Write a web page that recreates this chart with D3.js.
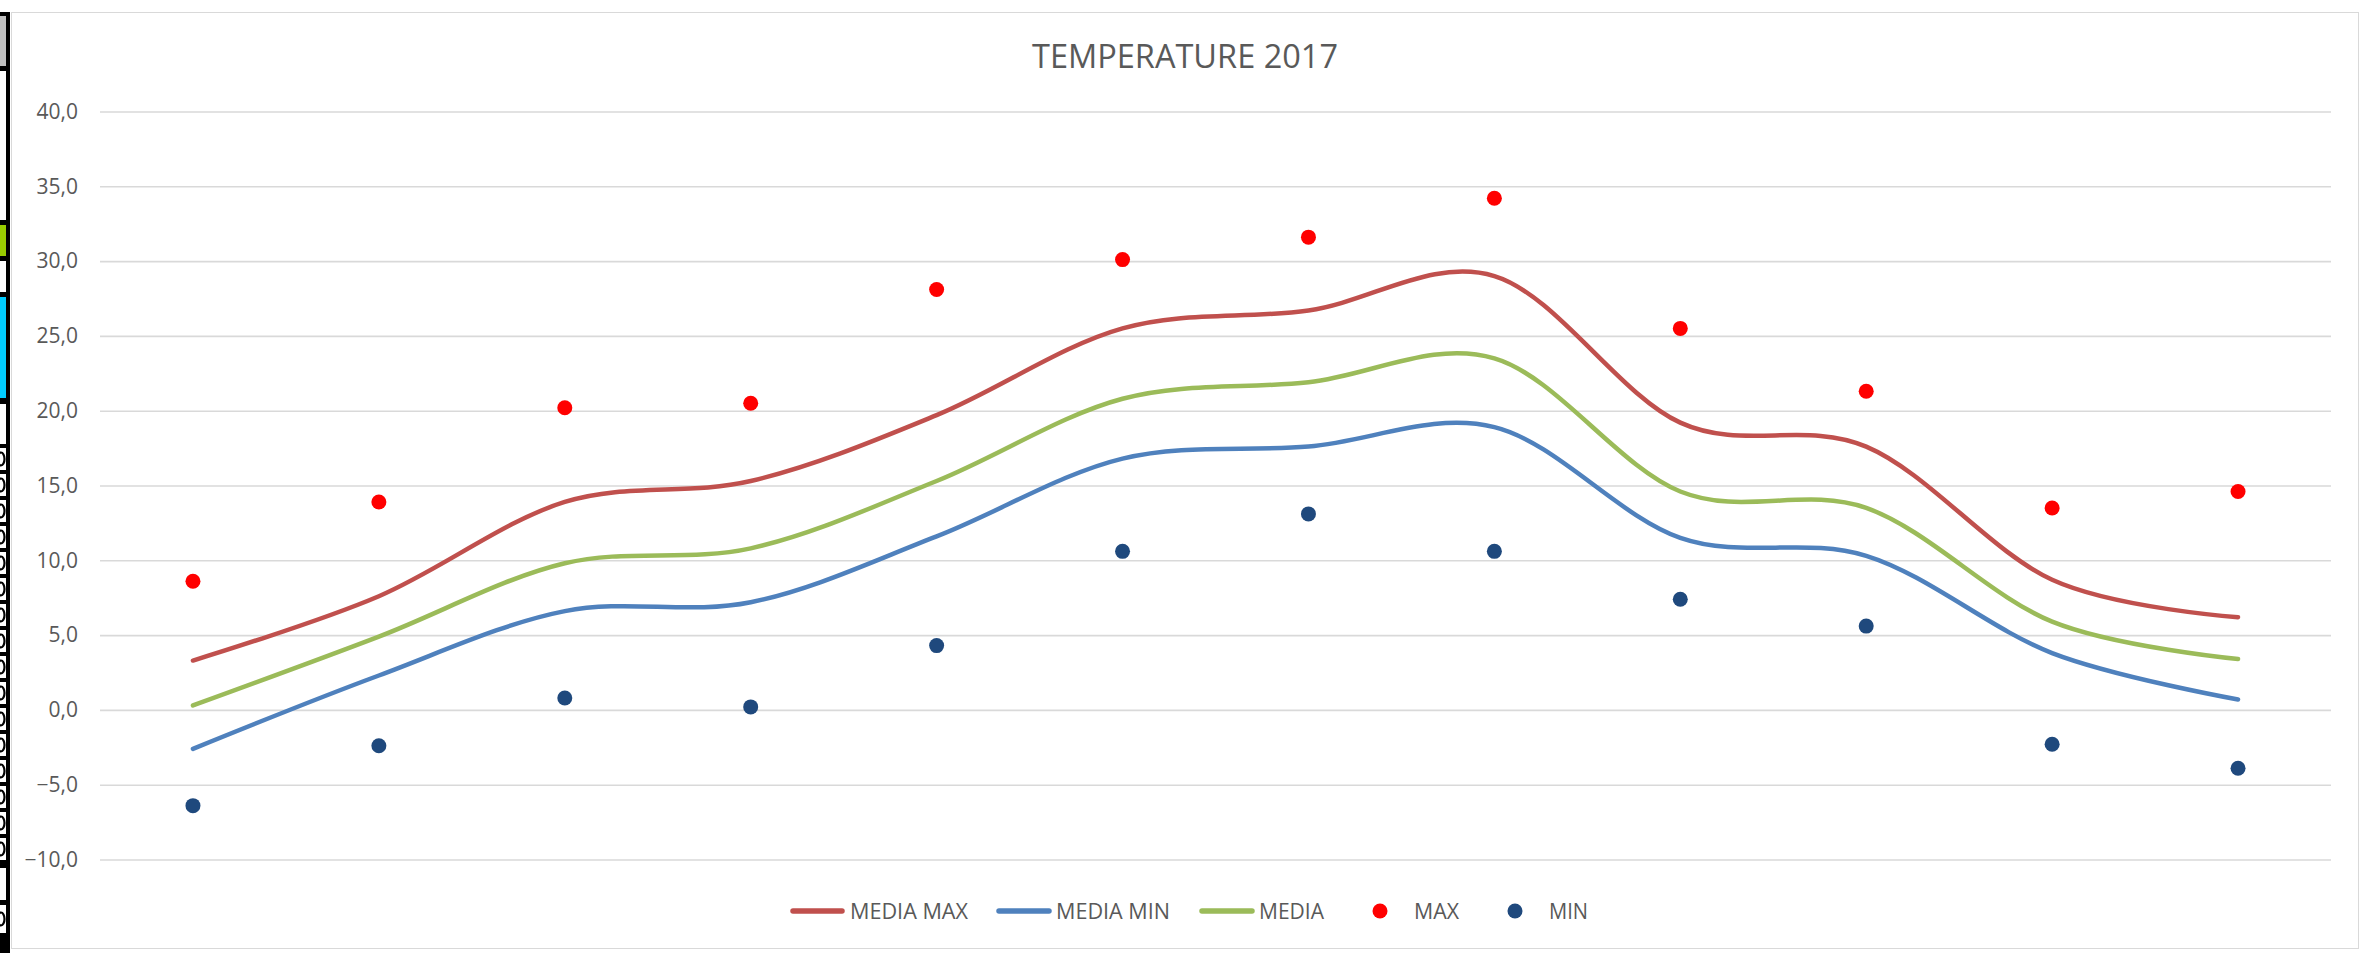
<!DOCTYPE html>
<html>
<head>
<meta charset="utf-8">
<script src="https://cdn.jsdelivr.net/npm/d3@7"></script>
<style>
  html, body { margin: 0; padding: 0; background: #fff; }
  svg { display: block; }
</style>
</head>
<body>
<svg id="chart" width="2360" height="953"></svg>
<script>
// ---------- DATA ----------
const months = ["GEN", "FEB", "MAR", "APR", "MAG", "GIU", "LUG", "AGO", "SET", "OTT", "NOV", "DIC"];
const mediaMax = [3.3, 7.6, 13.9, 15.3, 19.7, 25.5, 26.7, 29.0, 19.2, 17.6, 8.7, 6.2];
const mediaMin = [-2.6, 2.3, 6.6, 7.2, 11.6, 16.8, 17.6, 18.9, 11.5, 10.3, 3.8, 0.7];
const media    = [0.3, 4.9, 9.8, 10.8, 15.3, 20.8, 21.9, 23.5, 14.6, 13.5, 5.9, 3.4];
const maxVals  = [8.6, 13.9, 20.2, 20.5, 28.1, 30.1, 31.6, 34.2, 25.5, 21.3, 13.5, 14.6];
const minVals  = [-6.4, -2.4, 0.8, 0.2, 4.3, 10.6, 13.1, 10.6, 7.4, 5.6, -2.3, -3.9];
const yTicks   = [-10, -5, 0, 5, 10, 15, 20, 25, 30, 35, 40];
const title    = "TEMPERATURE 2017";

const lineSeries = [
  { name: "MEDIA MAX", values: mediaMax, color: "#C0504D" },
  { name: "MEDIA MIN", values: mediaMin, color: "#4F81BD" },
  { name: "MEDIA",     values: media,    color: "#9BBB59" }
];
const dotSeries = [
  { name: "MAX", values: maxVals, color: "#FF0000" },
  { name: "MIN", values: minVals, color: "#1F497D" }
];

// ---------- LAYOUT ----------
const svg = d3.select("#chart");
const plotLeft = 100, plotRight = 2331, plotTop = 111.5, plotBottom = 859.5;
const fontFam = "'Open Sans', 'Noto Sans', sans-serif";

const x = d3.scaleBand().domain(months).range([plotLeft, plotRight]).padding(0);
const y = d3.scaleLinear().domain([-10, 40]).range([plotBottom, plotTop]);
const cx = m => x(m) + x.bandwidth() / 2;

// spreadsheet strip at the far left (background decoration, shapes only)
const strip = svg.append("g");
strip.append("rect").attr("x", 0).attr("y", 12).attr("width", 10).attr("height", 941).attr("fill", "#000");
const cells = [
  { y0: 16, y1: 66, fill: "#c0c0c0" },
  { y0: 71, y1: 220, fill: "#fff" },
  { y0: 225, y1: 256, fill: "#99cc00" },
  { y0: 261, y1: 292, fill: "#fff" },
  { y0: 297, y1: 398, fill: "#00ccff" },
  { y0: 404, y1: 444, fill: "#fff" }
];
d3.range(16).forEach(i => cells.push({ y0: 448 + i * 26, y1: 448 + i * 26 + 22, fill: "#fff", zero: true }));
cells.push({ y0: 868, y1: 900, fill: "#fff" });
cells.push({ y0: 905, y1: 933, fill: "#fff", zero: true });
const defs = svg.append("defs");
defs.append("clipPath").attr("id", "stripClip").append("rect").attr("x", 0).attr("y", 0).attr("width", 6).attr("height", 953);
const cellG = strip.append("g").attr("clip-path", "url(#stripClip)");
cells.forEach(c => {
  cellG.append("rect").attr("x", 0).attr("y", c.y0).attr("width", 6).attr("height", c.y1 - c.y0).attr("fill", c.fill);
  if (c.zero) {
    cellG.append("ellipse").attr("cx", 1).attr("cy", (c.y0 + c.y1) / 2)
      .attr("rx", 3.5).attr("ry", 6.5).attr("fill", "none").attr("stroke", "#000").attr("stroke-width", 2.2);
  }
});

// chart border
svg.append("rect").attr("x", 11.5).attr("y", 12.5).attr("width", 2347).attr("height", 936)
  .attr("fill", "#fff").attr("stroke", "#d9d9d9").attr("stroke-width", 1);

// title
svg.append("text").attr("x", 1185).attr("y", 68).attr("text-anchor", "middle")
  .attr("font-family", fontFam).attr("font-size", 33).attr("fill", "#595959")
  .attr("textLength", 306).attr("lengthAdjust", "spacingAndGlyphs")
  .text(title);

// gridlines + y axis via d3 axis
const yAxis = d3.axisLeft(y).tickValues(yTicks)
  .tickSize(-(plotRight - plotLeft))
  .tickPadding(22)
  .tickFormat(d => d3.format(".1f")(d).replace(".", ","));
const gy = svg.append("g").attr("transform", `translate(${plotLeft},0)`).call(yAxis);
gy.select(".domain").remove();
gy.selectAll(".tick line").attr("stroke", "#d9d9d9").attr("stroke-width", 1.6);
gy.selectAll(".tick text").attr("fill", "#595959").attr("font-family", fontFam).attr("font-size", 21);

// smoothed lines
const lineGen = d3.line()
  .x((d, i) => cx(months[i]))
  .y(d => y(d))
  .curve(d3.curveCardinal.tension(0));
svg.append("g").selectAll("path").data(lineSeries).join("path")
  .attr("d", s => lineGen(s.values))
  .attr("fill", "none").attr("stroke", s => s.color)
  .attr("stroke-width", 4.5).attr("stroke-linecap", "round").attr("stroke-linejoin", "round");

// dots
dotSeries.forEach(s => {
  svg.append("g").selectAll("circle").data(s.values).join("circle")
    .attr("cx", (d, i) => cx(months[i])).attr("cy", d => y(d))
    .attr("r", 7.5).attr("fill", s.color);
});

// legend
const legendItems = [
  { name: "MEDIA MAX", type: "line", color: "#C0504D", mx0: 790, mx1: 845, tx: 850, tw: 118 },
  { name: "MEDIA MIN", type: "line", color: "#4F81BD", mx0: 996, mx1: 1052, tx: 1056, tw: 114 },
  { name: "MEDIA",     type: "line", color: "#9BBB59", mx0: 1199, mx1: 1255, tx: 1259, tw: 65 },
  { name: "MAX",       type: "dot",  color: "#FF0000", mx0: 1380, tx: 1414, tw: 45 },
  { name: "MIN",       type: "dot",  color: "#1F497D", mx0: 1515, tx: 1549, tw: 39 }
];
const ly = 911;
const lg = svg.append("g");
legendItems.forEach(it => {
  if (it.type === "line") {
    lg.append("line").attr("x1", it.mx0 + 3).attr("x2", it.mx1 - 3).attr("y1", ly).attr("y2", ly)
      .attr("stroke", it.color).attr("stroke-width", 5.5).attr("stroke-linecap", "round");
  } else {
    lg.append("circle").attr("cx", it.mx0).attr("cy", ly).attr("r", 7.5).attr("fill", it.color);
  }
  lg.append("text").attr("x", it.tx).attr("y", ly + 8).attr("font-family", fontFam)
    .attr("font-size", 22).attr("fill", "#595959")
    .attr("textLength", it.tw).attr("lengthAdjust", "spacingAndGlyphs").text(it.name);
});
</script>
</body>
</html>
